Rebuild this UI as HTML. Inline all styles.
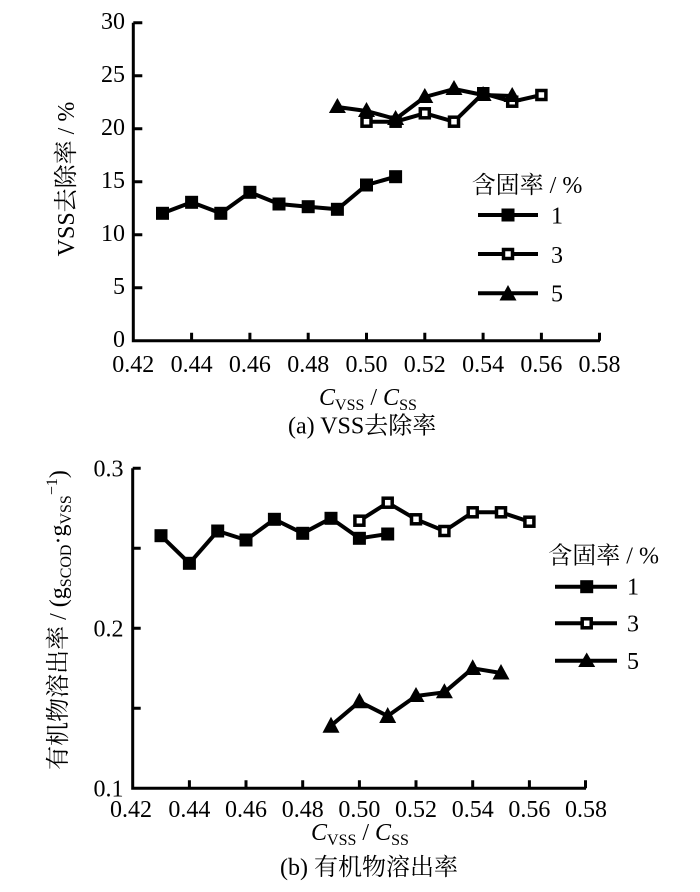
<!DOCTYPE html>
<html><head><meta charset="utf-8"><style>
html,body{margin:0;padding:0;background:#fff;}
svg{display:block;}
text{font-family:"Liberation Serif","Noto Serif CJK SC",serif;fill:#000;}
</style></head><body>
<svg width="700" height="892" viewBox="0 0 700 892" xmlns="http://www.w3.org/2000/svg">
<rect width="700" height="892" fill="#fff"/>

<!-- ===== TOP CHART ===== -->
<g stroke="#000" stroke-width="3" fill="none">
  <path d="M133.3,22.7 V340.7 H600"/>
  <!-- y ticks -->
  <path d="M133.3,22.7h9 M133.3,75.7h9 M133.3,128.7h9 M133.3,181.7h9 M133.3,234.7h9 M133.3,287.7h9"/>
  <!-- x ticks -->
  <path d="M191.6,340.7v-8 M249.9,340.7v-8 M308.2,340.7v-8 M366.5,340.7v-8 M424.8,340.7v-8 M483.1,340.7v-8 M541.4,340.7v-8 M599.5,340.7v-8"/>
</g>
<g font-size="24" text-anchor="end">
  <text x="125" y="29">30</text>
  <text x="125" y="82">25</text>
  <text x="125" y="135">20</text>
  <text x="125" y="188">15</text>
  <text x="125" y="241">10</text>
  <text x="125" y="294">5</text>
  <text x="125" y="347">0</text>
</g>
<g font-size="24" text-anchor="middle">
  <text x="133.3" y="372">0.42</text>
  <text x="191.6" y="372">0.44</text>
  <text x="249.9" y="372">0.46</text>
  <text x="308.2" y="372">0.48</text>
  <text x="366.5" y="372">0.50</text>
  <text x="424.8" y="372">0.52</text>
  <text x="483.1" y="372">0.54</text>
  <text x="541.4" y="372">0.56</text>
  <text x="599.5" y="372">0.58</text>
</g>
<text transform="translate(74,179) rotate(-90)" text-anchor="middle" font-size="24">VSS去除率 / %</text>
<text x="319" y="405" font-size="24"><tspan font-style="italic">C</tspan><tspan font-size="16" dy="5">VSS</tspan><tspan dy="-5"> / </tspan><tspan font-style="italic">C</tspan><tspan font-size="16" dy="5">SS</tspan></text>
<text x="288" y="433.5" font-size="24">(a) VSS去除率</text>

<!-- series 1 top -->
<polyline points="162.5,213.3 191.6,202.3 220.8,213.3 249.9,192.3 279,204 308.2,206.7 337.4,209.3 366.5,185 395.6,176.7" fill="none" stroke="#000" stroke-width="4" stroke-linejoin="round"/>
<g fill="#000">
  <rect x="156" y="206.8" width="13" height="13"/>
  <rect x="185.1" y="195.8" width="13" height="13"/>
  <rect x="214.3" y="206.8" width="13" height="13"/>
  <rect x="243.4" y="185.8" width="13" height="13"/>
  <rect x="272.5" y="197.5" width="13" height="13"/>
  <rect x="301.7" y="200.2" width="13" height="13"/>
  <rect x="330.9" y="202.8" width="13" height="13"/>
  <rect x="360" y="178.5" width="13" height="13"/>
  <rect x="389.1" y="170.2" width="13" height="13"/>
</g>
<!-- series 3 top -->
<polyline points="366.5,121.7 395.6,121.7 424.8,113.3 454,121.7 483.1,93.3 512.2,101.7 541.4,95" fill="none" stroke="#000" stroke-width="4" stroke-linejoin="round"/>
<g fill="#fff" stroke="#000" stroke-width="3.5">
  <rect x="362" y="117.2" width="9" height="9"/>
  <rect x="391.1" y="117.2" width="9" height="9"/>
  <rect x="420.3" y="108.8" width="9" height="9"/>
  <rect x="449.5" y="117.2" width="9" height="9"/>
  <rect x="507.7" y="97.2" width="9" height="9"/>
  <rect x="536.9" y="90.5" width="9" height="9"/>
</g>
<!-- series 5 top -->
<polyline points="337.4,107 366.5,111 395.6,119 424.8,97 454,89 483.1,95 512.2,96" fill="none" stroke="#000" stroke-width="4" stroke-linejoin="round"/>
<g fill="#000">
  <polygon points="337.4,98 328.9,113 345.9,113"/>
  <polygon points="366.5,102 358,117 375,117"/>
  <polygon points="395.6,110 387.1,125 404.1,125"/>
  <polygon points="424.8,88 416.3,103 433.3,103"/>
  <polygon points="454,80 445.5,95 462.5,95"/>
  <polygon points="483.1,86 474.6,101 491.6,101"/>
  <polygon points="512.2,87 503.7,102 520.7,102"/>
  <rect x="477" y="87" width="12.5" height="13"/>
</g>
<!-- legend top -->
<text x="471.7" y="193" font-size="24">含固率 / %</text>
<g stroke="#000" stroke-width="4">
  <line x1="478" y1="215" x2="538" y2="215"/>
  <line x1="478" y1="254" x2="538" y2="254"/>
  <line x1="478" y1="293.3" x2="538" y2="293.3"/>
</g>
<rect x="501.5" y="208.5" width="13" height="13" fill="#000"/>
<rect x="503.5" y="249.5" width="9" height="9" fill="#fff" stroke="#000" stroke-width="3.5"/>
<polygon points="508,285 499.5,300.5 516.5,300.5" fill="#000"/>
<g font-size="24">
  <text x="551" y="223.5">1</text>
  <text x="551" y="263">3</text>
  <text x="551" y="301.7">5</text>
</g>

<!-- ===== BOTTOM CHART ===== -->
<g stroke="#000" stroke-width="3" fill="none">
  <path d="M132.7,468.3 V788.3 H586"/>
  <path d="M132.7,468.3h8 M132.7,548.3h8 M132.7,628.3h8 M132.7,708.3h8"/>
  <path d="M189.4,788.3v-8 M246,788.3v-8 M302.7,788.3v-8 M359.4,788.3v-8 M416,788.3v-8 M472.7,788.3v-8 M529.4,788.3v-8 M585.5,788.3v-8"/>
</g>
<g font-size="24" text-anchor="end">
  <text x="123.5" y="476.7">0.3</text>
  <text x="123.5" y="636.7">0.2</text>
  <text x="123.5" y="796.7">0.1</text>
</g>
<g font-size="24" text-anchor="middle">
  <text x="131" y="817">0.42</text>
  <text x="189.4" y="817">0.44</text>
  <text x="246" y="817">0.46</text>
  <text x="302.7" y="817">0.48</text>
  <text x="359.4" y="817">0.50</text>
  <text x="416" y="817">0.52</text>
  <text x="472.7" y="817">0.54</text>
  <text x="529.4" y="817">0.56</text>
  <text x="586" y="817">0.58</text>
</g>
<text transform="translate(66,620) rotate(-90)" text-anchor="middle" font-size="24">有机物溶出率 / (g<tspan font-size="16" dy="5">SCOD</tspan><tspan dy="-5">·g</tspan><tspan font-size="16" dy="5">VSS</tspan><tspan font-size="16" dy="-14">−1</tspan><tspan dy="9">)</tspan></text>
<text x="311" y="840" font-size="24"><tspan font-style="italic">C</tspan><tspan font-size="16" dy="5">VSS</tspan><tspan dy="-5"> / </tspan><tspan font-style="italic">C</tspan><tspan font-size="16" dy="5">SS</tspan></text>
<text x="280" y="875" font-size="24">(b) 有机物溶出率</text>

<!-- series 1 bottom -->
<polyline points="161,535.7 189.4,563.3 217.7,531 246,540 274.4,519.3 302.7,533.3 331,518.3 359.4,538.3 387.7,534" fill="none" stroke="#000" stroke-width="4" stroke-linejoin="round"/>
<g fill="#000">
  <rect x="154.5" y="529.2" width="13" height="13"/>
  <rect x="182.9" y="556.8" width="13" height="13"/>
  <rect x="211.2" y="524.5" width="13" height="13"/>
  <rect x="239.5" y="533.5" width="13" height="13"/>
  <rect x="267.9" y="512.8" width="13" height="13"/>
  <rect x="296.2" y="526.8" width="13" height="13"/>
  <rect x="324.5" y="511.8" width="13" height="13"/>
  <rect x="352.9" y="531.8" width="13" height="13"/>
  <rect x="381.2" y="527.5" width="13" height="13"/>
</g>
<!-- series 3 bottom -->
<polyline points="359.4,520.7 387.7,502.7 416,519.3 444.4,531 472.7,512.3 501,512.3 529.4,521.7" fill="none" stroke="#000" stroke-width="4" stroke-linejoin="round"/>
<g fill="#fff" stroke="#000" stroke-width="3.5">
  <rect x="354.9" y="516.2" width="9" height="9"/>
  <rect x="383.2" y="498.2" width="9" height="9"/>
  <rect x="411.5" y="514.8" width="9" height="9"/>
  <rect x="439.9" y="526.5" width="9" height="9"/>
  <rect x="468.2" y="507.8" width="9" height="9"/>
  <rect x="496.5" y="507.8" width="9" height="9"/>
  <rect x="524.9" y="517.2" width="9" height="9"/>
</g>
<!-- series 5 bottom -->
<polyline points="331,725.7 359.4,701.7 387.7,716 416,696 444.4,692.3 472.7,668.3 501,673" fill="none" stroke="#000" stroke-width="4" stroke-linejoin="round"/>
<g fill="#000">
  <polygon points="331,716.7 322.5,732.7 339.5,732.7"/>
  <polygon points="359.4,692.7 350.9,708.2 367.9,708.2"/>
  <polygon points="387.7,707 379.2,723 396.2,723"/>
  <polygon points="416,687 407.5,702 424.5,702"/>
  <polygon points="444.4,683.3 435.9,698.3 452.9,698.3"/>
  <polygon points="472.7,659.3 464.2,675 481.2,675"/>
  <polygon points="501,664 492.5,679.5 509.5,679.5"/>
</g>
<!-- legend bottom -->
<text x="548.3" y="563.3" font-size="24">含固率 / %</text>
<g stroke="#000" stroke-width="4">
  <line x1="555" y1="586.7" x2="617" y2="586.7"/>
  <line x1="555" y1="623.3" x2="617" y2="623.3"/>
  <line x1="555" y1="660.7" x2="617" y2="660.7"/>
</g>
<rect x="580.2" y="580.2" width="13" height="13" fill="#000"/>
<rect x="582.2" y="618.8" width="9" height="9" fill="#fff" stroke="#000" stroke-width="3.5"/>
<polygon points="586.7,652.5 578.2,667 595.2,667" fill="#000"/>
<g font-size="24">
  <text x="627" y="594.5">1</text>
  <text x="627" y="631.5">3</text>
  <text x="627" y="669">5</text>
</g>
</svg>
</body></html>
